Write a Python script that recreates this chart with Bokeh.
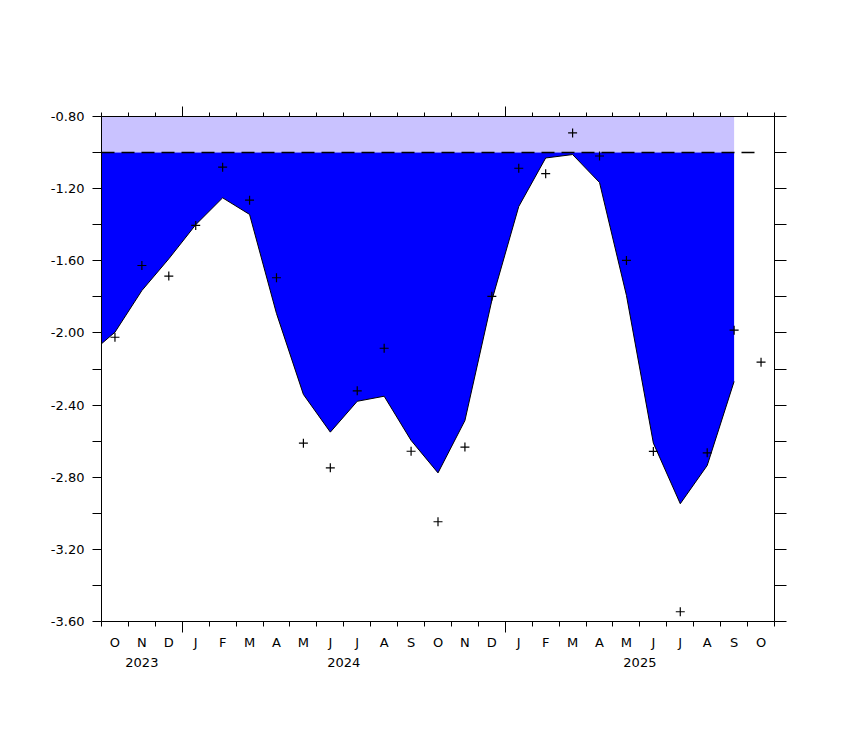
from bokeh.plotting import figure
from bokeh.models import LinearAxis, FixedTicker, Range1d, CustomJSTickFormatter, PrintfTickFormatter
from bokeh.embed import file_html
from bokeh.resources import INLINE

# ---- data ----
month_letters = ["O", "N", "D", "J", "F", "M", "A", "M", "J", "J", "A", "S",
                 "O", "N", "D", "J", "F", "M", "A", "M", "J", "J", "A", "S", "O"]
obs_x = [i + 0.5 for i in range(25)]
obs_values = [-2.024, -1.626, -1.685, -1.404, -1.081, -1.264, -1.694, -2.611,
              -2.748, -2.321, -2.085, -2.656, -3.047, -2.633, -1.797, -1.087,
              -1.117, -0.891, -1.019, -1.598, -2.657, -3.546, -2.665, -1.985, -2.162]

curve_x = [0.0] + [i + 0.5 for i in range(24)]
curve_values = [-2.060, -1.996, -1.765, -1.589, -1.400, -1.251, -1.343, -1.892,
                -2.341, -2.550, -2.379, -2.351, -2.596, -2.776, -2.486, -1.820,
                -1.299, -1.030, -1.011, -1.166, -1.792, -2.611, -2.947, -2.735, -2.269]

threshold = -1.0
band_top = -0.8

year_labels = ["2023", "2024", "2025"]
year_pos = [1.5, 9.0, 20.0]
year_bounds = [3, 15]
month_bounds = list(range(26))

y_major = [-3.6, -3.2, -2.8, -2.4, -2.0, -1.6, -1.2, -0.8]
y_minor = [-3.4, -3.0, -2.6, -2.2, -1.8, -1.4, -1.0]
y_all = sorted(y_major + y_minor)

FONT = "DejaVu Sans"
FS = "13px"

p = figure(width=843, height=724, output_backend="svg", toolbar_location=None,
           x_range=Range1d(0, 25), y_range=Range1d(-3.6, -0.8),
           x_axis_location=None, y_axis_location=None,
           min_border_left=101, min_border_right=69, min_border_top=116, min_border_bottom=103)
p.grid.visible = False
p.outline_line_color = None
p.background_fill_color = "white"
p.border_fill_color = "white"

blank = CustomJSTickFormatter(code="return '';")

# fills
p.varea(x=[curve_x[0], curve_x[-1]], y1=threshold, y2=band_top, fill_color="#c9c2ff")
p.varea(x=curve_x, y1=curve_values, y2=threshold, fill_color="#0000ff")
p.line(x=curve_x, y=curve_values, line_color="black", line_width=1)
p.line(x=[curve_x[0], obs_x[-1]], y=[threshold, threshold], line_color="black",
       line_width=1.5, line_dash="13 7")
p.scatter(x=obs_x, y=obs_values, marker="cross", size=9, line_color="black", line_width=1.2)

# left axis
left = LinearAxis(ticker=FixedTicker(ticks=y_major, minor_ticks=y_minor),
                  formatter=PrintfTickFormatter(format="%.2f"))
left.major_tick_out = 9
left.major_tick_in = 0
left.minor_tick_out = 9
left.minor_tick_in = 0
left.major_label_standoff = 8
left.major_label_text_font = FONT
left.major_label_text_font_size = FS
left.major_label_text_color = "black"
left.axis_line_color = "black"
left.major_tick_line_color = "black"
left.minor_tick_line_color = "black"
p.add_layout(left, "left")

# right axis (ticks only)
right = LinearAxis(ticker=FixedTicker(ticks=y_all), formatter=blank)
right.major_tick_out = 12
right.major_tick_in = 0
right.minor_tick_line_color = None
right.major_label_standoff = 0
right.axis_line_color = "black"
right.major_tick_line_color = "black"
p.add_layout(right, "right")

# bottom ticks
b1 = LinearAxis(ticker=FixedTicker(ticks=year_bounds, minor_ticks=month_bounds), formatter=blank)
b1.major_tick_out = 11
b1.major_tick_in = 0
b1.minor_tick_out = 5
b1.minor_tick_in = 0
b1.major_label_standoff = 0
b1.axis_line_color = "black"
b1.major_tick_line_color = "black"
b1.minor_tick_line_color = "black"
p.add_layout(b1, "below")

# month letters
b2 = LinearAxis(ticker=FixedTicker(ticks=obs_x),
                formatter=CustomJSTickFormatter(args=dict(labels=month_letters),
                                                code="return labels[Math.round(tick - 0.5)] || '';"))
b2.major_tick_out = 0
b2.major_tick_in = 0
b2.minor_tick_line_color = None
b2.major_tick_line_color = None
b2.axis_line_color = None
b2.major_label_standoff = 2
b2.major_label_text_font = FONT
b2.major_label_text_font_size = FS
b2.major_label_text_color = "black"
p.add_layout(b2, "below")

# years
b3 = LinearAxis(ticker=FixedTicker(ticks=year_pos),
                formatter=CustomJSTickFormatter(args=dict(labels=year_labels, pos=year_pos),
                                                code="for (let i = 0; i < pos.length; i++) { if (Math.abs(pos[i] - tick) < 1e-6) return labels[i]; } return '';"))
b3.major_tick_out = 0
b3.major_tick_in = 0
b3.minor_tick_line_color = None
b3.major_tick_line_color = None
b3.axis_line_color = None
b3.major_label_standoff = 5
b3.major_label_text_font = FONT
b3.major_label_text_font_size = FS
b3.major_label_text_color = "black"
p.add_layout(b3, "below")

# top ticks
t1 = LinearAxis(ticker=FixedTicker(ticks=year_bounds, minor_ticks=month_bounds), formatter=blank)
t1.major_tick_out = 10
t1.major_tick_in = 0
t1.minor_tick_out = 4
t1.minor_tick_in = 0
t1.major_label_standoff = 0
t1.axis_line_color = "black"
t1.major_tick_line_color = "black"
t1.minor_tick_line_color = "black"
p.add_layout(t1, "above")

open("out.html", "w").write(file_html(p, INLINE))
